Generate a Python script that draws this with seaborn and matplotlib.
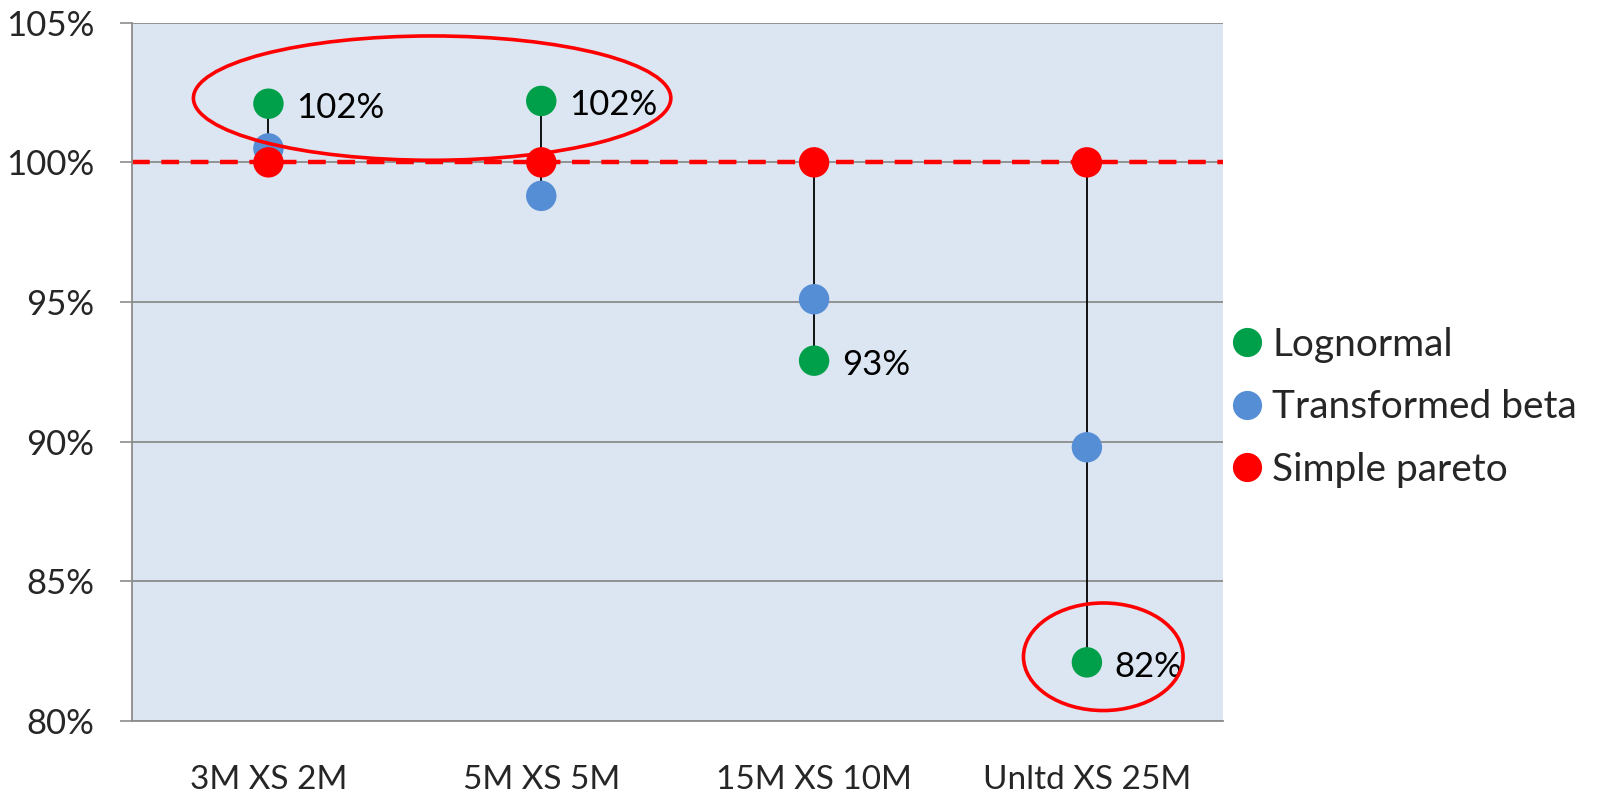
import matplotlib
matplotlib.use("Agg")
import matplotlib.pyplot as plt
from matplotlib.patches import Ellipse
from matplotlib.lines import Line2D
from matplotlib.ticker import FuncFormatter, FixedLocator
import numpy as np
import pandas as pd
import seaborn as sns

# Layers and model results (as % of the reference model)
layers = ["3M XS 2M", "5M XS 5M", "15M XS 10M", "Unltd XS 25M"]
lognormal = [102.1, 102.2, 92.9, 82.1]
transformed_beta = [100.5, 98.8, 95.1, 89.8]
simple_pareto = [100.0, 100.0, 100.0, 100.0]

series_names = ["Lognormal", "Transformed beta", "Simple pareto"]
series_colors = ["#00A04A", "#558ED5", "#FF0000"]
label_series = lognormal

y_ticks = [80, 85, 90, 95, 100, 105]

sns.set_theme(style="white")
plt.rcParams["font.family"] = ["Lato", "DejaVu Sans"]

rows = []
for name, vals in zip(series_names, [lognormal, transformed_beta, simple_pareto]):
    for i, v in enumerate(vals):
        rows.append({"pos": i, "layer": layers[i], "model": name, "value": v})
df = pd.DataFrame(rows)

fig = plt.figure(figsize=(16.16, 7.99), dpi=100)
ax = fig.add_axes([0.0817, 0.0976, 0.757 - 0.0817, 0.9716 - 0.0976])
ax.set_facecolor("#DCE6F2")

# high-low lines joining the models in each layer
all_vals = np.array([lognormal, transformed_beta, simple_pareto])
ax.vlines(np.arange(len(layers)), all_vals.min(axis=0), all_vals.max(axis=0),
          color="black", linewidth=1.3, zorder=2)

# reference level
ax.axhline(100, color="#FF0000", linewidth=3.2, linestyle=(0, (4, 2.6)), zorder=2.5)

sns.scatterplot(data=df, x="pos", y="value", hue="model", hue_order=series_names,
                palette=series_colors, s=480, linewidth=0, legend=False,
                ax=ax, zorder=3)

for i, v in enumerate(label_series):
    ax.annotate(f"{v:.0f}%", (i, v), xytext=(20, -3), textcoords="offset points",
                ha="left", va="center", fontsize=25, color="black", zorder=4)

# highlight rings
ax.add_patch(Ellipse((0.6, 102.3), 1.75, 4.45, fill=False, edgecolor="#FF0000",
                     linewidth=2.6, zorder=5))
ax.add_patch(Ellipse((3.06, 82.3), 0.585, 3.85, fill=False, edgecolor="#FF0000",
                     linewidth=2.6, zorder=5))

ax.set_xlim(-0.5, len(layers) - 0.5)
ax.set_ylim(80, 105)
ax.yaxis.set_major_locator(FixedLocator(y_ticks))
ax.yaxis.set_major_formatter(FuncFormatter(lambda v, p: f"{v:.0f}%"))
ax.grid(axis="y", color="#8C8C8C", linewidth=1.3)
ax.set_axisbelow(True)

ax.set_xticks(range(len(layers)))
ax.set_xticklabels(layers)
ax.set_xticks(np.arange(-0.5, len(layers)), minor=True)
ax.tick_params(axis="x", which="major", length=0, pad=32, labelsize=24)
ax.tick_params(axis="x", which="minor", length=12, width=1.2, color="#8C8C8C", direction="out")
ax.tick_params(axis="y", length=9, width=1.2, color="#8C8C8C", direction="out",
               pad=18, labelsize=25, left=True)
ax.set_xlabel("")
ax.set_ylabel("")

for side in ["top", "right"]:
    ax.spines[side].set_visible(False)
for side in ["left", "bottom"]:
    ax.spines[side].set_color("#8C8C8C")
    ax.spines[side].set_linewidth(1.3)

handles = [Line2D([], [], marker="o", linestyle="", markersize=21,
                  markerfacecolor=c, markeredgewidth=0, label=n)
           for n, c in zip(series_names, series_colors)]
fig.legend(handles=handles, loc="center left", bbox_to_anchor=(0.738, 0.49),
           frameon=False, fontsize=28, handletextpad=0.15, labelspacing=0.68,
           handlelength=1.0)

fig.savefig("out.png", dpi=100)
